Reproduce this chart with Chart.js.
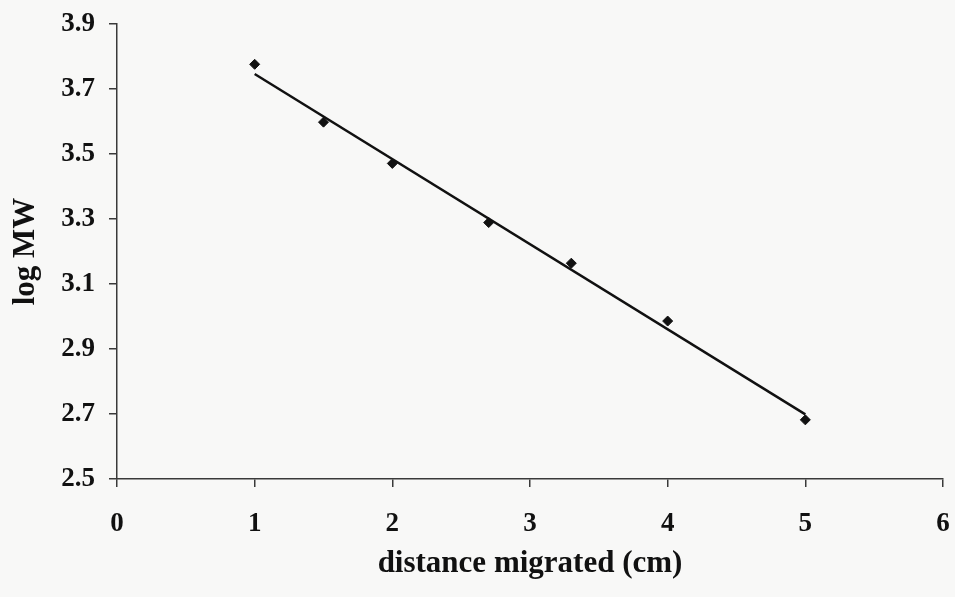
<!DOCTYPE html>
<html>
<head>
<meta charset="utf-8">
<script src="https://cdn.jsdelivr.net/npm/chart.js@4/dist/chart.umd.min.js"></script>
<style>
    html, body { margin: 0; padding: 0; background: #f8f8f7; }
    #wrap { width: 955px; height: 597px; }
</style>
</head>
<body>
<div id="wrap"><canvas id="mwChart"></canvas></div>
<script>
// valores
const distance = [1, 1.5, 2, 2.7, 3.3, 4, 5];
const logMW = [3.776, 3.598, 3.471, 3.289, 3.164, 2.986, 2.682];
// linha de tendência (extremos)
const trendX = [1, 5];
const trendY = [3.746, 2.699];
const xTicks = [0, 1, 2, 3, 4, 5, 6];
const yTicks = [2.5, 2.7, 2.9, 3.1, 3.3, 3.5, 3.7, 3.9];

const axisColor = '#3a3a3a';
const tickFont = { family: "'Liberation Serif', 'Times New Roman', serif", size: 27, weight: 'bold' };
const titleFont = { family: "'Liberation Serif', 'Times New Roman', serif", size: 31, weight: 'bold' };

const ctx = document.getElementById('mwChart').getContext('2d');

new Chart(ctx, {
    type: 'scatter',
    data: {
        datasets: [
            {
                label: 'log MW',
                data: distance.map((x, i) => ({ x: x, y: logMW[i] })),
                pointStyle: 'rectRot',
                pointRadius: 5,
                backgroundColor: '#111',
                borderColor: '#111',
                borderWidth: 1
            },
            {
                label: 'tendência',
                type: 'line',
                data: trendX.map((x, i) => ({ x: x, y: trendY[i] })),
                borderColor: '#111',
                borderWidth: 2.5,
                pointRadius: 0,
                fill: false
            }
        ]
    },
    options: {
        responsive: true,
        maintainAspectRatio: false,
        animation: false,
        layout: { padding: { top: 24, right: 12, left: 0, bottom: 0 } },
        plugins: {
            legend: { display: false },
            tooltip: { enabled: false }
        },
        scales: {
            x: {
                type: 'linear',
                min: 0,
                max: 6,
                afterBuildTicks: axis => { axis.ticks = xTicks.map(v => ({ value: v })); },
                afterFit: axis => {
                    axis.height = 118;
                    // sem margem extra para os rótulos das pontas
                    axis.paddingLeft = 0;
                    axis.paddingRight = 0;
                },
                grid: { drawOnChartArea: false, tickLength: 8, color: axisColor, lineWidth: 1.5 },
                border: { color: axisColor, width: 1.5 },
                ticks: { font: tickFont, color: '#111', padding: 21, callback: v => String(v) },
                title: { display: true, text: 'distance migrated (cm)', font: titleFont, color: '#111', padding: { top: 0, bottom: 14 } }
            },
            y: {
                min: 2.5,
                max: 3.9,
                afterBuildTicks: axis => { axis.ticks = yTicks.map(v => ({ value: v })); },
                afterFit: axis => {
                    axis.width = 117;
                    axis.paddingTop = 0;
                    axis.paddingBottom = 0;
                },
                grid: { drawOnChartArea: false, tickLength: 8, color: axisColor, lineWidth: 1.5 },
                border: { color: axisColor, width: 1.5 },
                ticks: { font: tickFont, color: '#111', padding: 14, callback: v => Number(v).toFixed(1) },
                title: { display: true, text: 'log MW', font: titleFont, color: '#111', padding: { top: 7, bottom: 0 } }
            }
        }
    }
});
</script>
</body>
</html>
